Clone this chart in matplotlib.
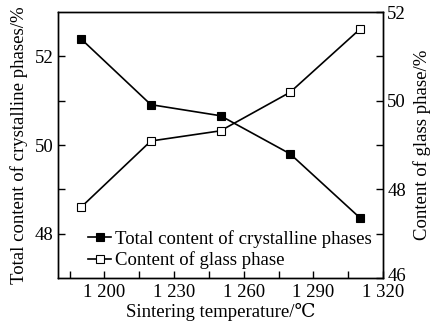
import matplotlib
matplotlib.use("Agg")
import matplotlib.pyplot as plt
import matplotlib.transforms as mtransforms
from matplotlib.ticker import MultipleLocator, FixedLocator

plt.rcParams['font.family'] = ['Liberation Serif', 'DejaVu Serif']
plt.rcParams['mathtext.fontset'] = 'stix'

temps = [1190, 1220, 1250, 1280, 1310]
crystalline = [52.39, 50.91, 50.66, 49.80, 48.36]
glass = [47.60, 49.09, 49.32, 50.19, 51.61]
xticks = [1200, 1230, 1260, 1290, 1320]
xticklabels = ["1 200", "1 230", "1 260", "1 290", "1 320"]

fig = plt.figure(figsize=(4.36, 3.28), dpi=100)
ax = fig.add_axes([58/436, 1-278/328, (383-58)/436, (278-12)/328])
ax2 = ax.twinx()

l1, = ax.plot(temps, crystalline, '-', color='black', lw=1.2, marker='s',
              ms=5.5, mfc='black', mec='black', mew=0.8,
              label='Total content of crystalline phases')
l2, = ax2.plot(temps, glass, '-', color='black', lw=1.2, marker='s',
               ms=5.5, mfc='white', mec='black', mew=0.8,
               label='Content of glass phase')

ax.set_xlim(1180, 1320)
ax.set_ylim(47, 53)
ax2.set_ylim(46, 52)
ax.set_xticks(xticks)
ax.set_xticklabels(xticklabels)
ax.xaxis.set_minor_locator(MultipleLocator(15))
ax.set_yticks([48, 50, 52])
ax.yaxis.set_minor_locator(FixedLocator([49, 51]))
ax2.set_yticks([46, 48, 50, 52])
ax2.yaxis.set_minor_locator(FixedLocator([47, 49, 51]))

fs = 13.5
for a in (ax, ax2):
    a.tick_params(which='both', direction='in', labelsize=fs, width=1.0)
    a.tick_params(which='major', length=5)
    a.tick_params(which='minor', length=5)
    for s in a.spines.values():
        s.set_linewidth(1.0)
ax.tick_params(axis='x', pad=4)
ax2.tick_params(axis='y', pad=3)
ax.tick_params(axis='y', pad=3)

# lift the lowest right-hand label slightly so it clears the x tick label
lbl46 = ax2.get_yticklabels()[0]
lbl46.set_transform(lbl46.get_transform() +
                    mtransforms.ScaledTranslation(0, 4/100, fig.dpi_scale_trans))

ax.set_xlabel('Sintering temperature/℃', fontsize=fs, labelpad=2)
ax.set_ylabel('Total content of crystalline phases/%', fontsize=fs, labelpad=5)
ax2.set_ylabel('Content of glass phase/%', fontsize=fs, labelpad=5)

ax.legend(handles=[l1, l2], loc='lower left', bbox_to_anchor=(0.07, 0.005),
          frameon=False, fontsize=fs, handlelength=1.2, handletextpad=0.2,
          borderaxespad=0, labelspacing=0.2)

fig.savefig('out.png', dpi=100)
